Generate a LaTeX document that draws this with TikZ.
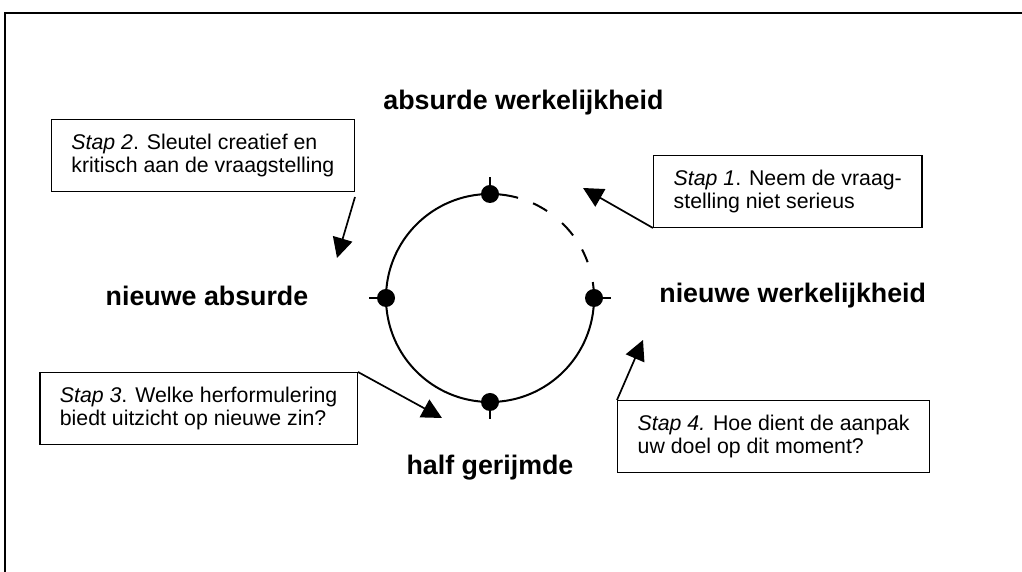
\documentclass[tikz,border=0pt]{standalone}
\usepackage{fontspec}
\setmainfont{Liberation Sans}
\usetikzlibrary{positioning,arrows.meta}

\begin{document}
\begin{tikzpicture}[
    x=0.5pt, y=0.5pt,
    stepbox/.style={draw, line width=0.7pt, align=left, inner xsep=10pt, minimum height=36pt, font=\fontsize{10.65}{11.5}\selectfont},
    pole/.style={inner sep=0pt, font=\fontsize{13.4}{16}\selectfont\bfseries},
    dot/.style={circle, fill, inner sep=0pt, minimum size=9pt},
    steparrow/.style={-{Triangle[length=10pt,width=10pt]}, line width=0.85pt}
  ]
  \useasboundingbox (0,0) rectangle (1022,572);
  % frame
  \draw[line width=1.2pt] (5,-10) -- (5,559) -- (1040,559);

  % the circle: dashed quarter top-right, the rest solid
  \coordinate (c) at (490,274);
  \draw[line width=1pt, dash pattern=on 14.2pt off 8pt on 8pt off 9.6pt on 8.3pt off 8.4pt on 6.9pt off 10.3pt on 20pt]
    (c) ++(90:104) arc[start angle=90, end angle=0, radius=52pt];
  \draw[line width=1pt] (c) ++(0:104) arc[start angle=0, end angle=-270, radius=52pt];

  % four poles with outward ticks
  \foreach \n/\a in {ptop/90, pright/0, pbot/270, pleft/180} {
    \path (c) ++(\a:104) node[dot] (\n) {};
    \draw[line width=1pt] (\n) -- ++(\a:17);
  }

  % pole labels
  \node[pole, anchor=west] (absw) at (383,469) {absurde werkelijkheid};
  \node[pole] (nabs) at (207,276) {nieuwe absurde};
  \node[pole, anchor=west] (nwerk) at (659,276) {nieuwe werkelijkheid};
  \node[pole] (half) at (490,104) {half gerijmde};

  % the four steps
  \node[stepbox, anchor=south west] (s1) at (653,344) {\textit{Stap 1}. Neem de vraag-\\stelling niet serieus};
  \node[stepbox, anchor=south east] (s2) at (355,380) {\textit{Stap 2}. Sleutel creatief en\\kritisch aan de vraagstelling};
  \node[stepbox, anchor=north east] (s3) at (358,200) {\textit{Stap 3}. Welke herformulering\\biedt uitzicht op nieuwe zin?};
  \node[stepbox, anchor=north west] (s4) at (617,172) {\textit{Stap 4.} Hoe dient de aanpak\\uw doel op dit moment?};

  \coordinate (t1) at (583,384);
  \coordinate (t2) at (337,314);
  \coordinate (t3) at (442,154);
  \coordinate (t4) at (643,232);
  \draw[steparrow] (s1.south west) -- (t1);
  \draw[steparrow] ([yshift=-2.5pt]s2.south east) -- (t2);
  \draw[steparrow] (s3.north east) -- (t3);
  \draw[steparrow] (s4.north west) -- (t4);
\end{tikzpicture}
\end{document}
